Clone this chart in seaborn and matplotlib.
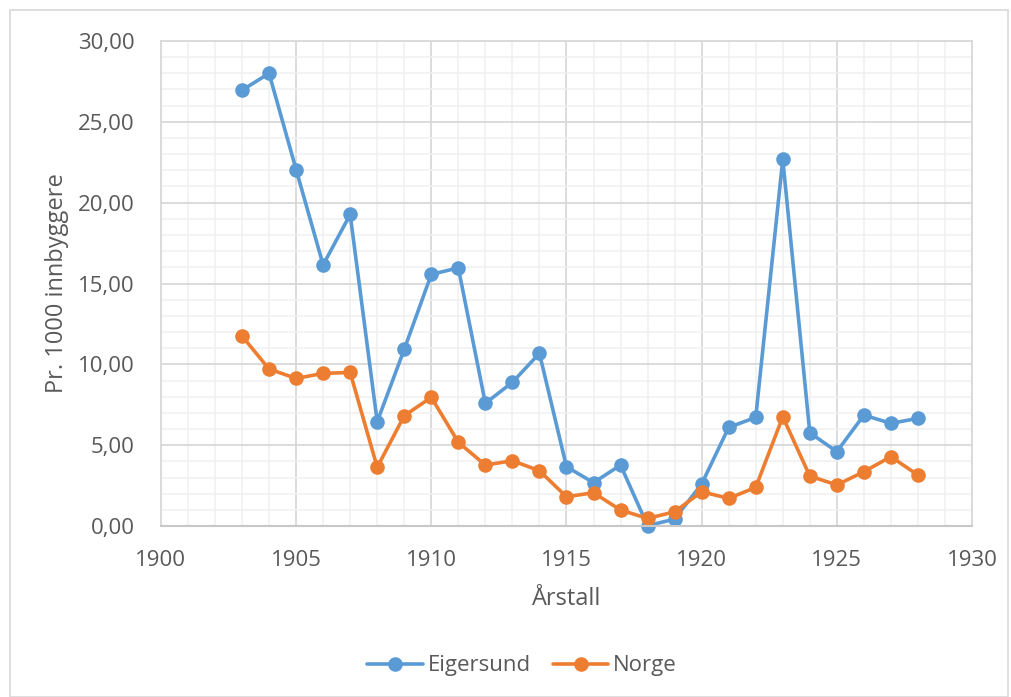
import matplotlib
matplotlib.use("Agg")
import matplotlib.pyplot as plt
from matplotlib.patches import Rectangle
from matplotlib.ticker import MultipleLocator, FuncFormatter
import seaborn as sns
import pandas as pd

# data
years = list(range(1903, 1929))
eigersund = [26.95, 28.0, 22.05, 16.15, 19.27, 6.45, 10.93, 15.56, 15.97, 7.59,
             8.89, 10.68, 3.67, 2.68, 3.77, 0.02, 0.43, 2.60, 6.10, 6.72,
             22.68, 5.77, 4.60, 6.86, 6.35, 6.66]
norge = [11.75, 9.71, 9.13, 9.44, 9.50, 3.63, 6.82, 7.96, 5.18, 3.77,
         4.04, 3.42, 1.81, 2.06, 0.99, 0.47, 0.88, 2.12, 1.71, 2.39,
         6.76, 3.09, 2.54, 3.36, 4.29, 3.15]
series_names = ["Eigersund", "Norge"]
colors = ["#5B9BD5", "#ED7D31"]

df = pd.DataFrame({
    "Årstall": years * 2,
    "verdi": eigersund + norge,
    "serie": [series_names[0]] * len(years) + [series_names[1]] * len(years),
})

sns.set_style("white")
plt.rcParams["font.family"] = ["Open Sans", "DejaVu Sans"]
text_color = "#595959"

fig = plt.figure(figsize=(10.12, 6.97), dpi=100)
ax = fig.add_axes([0.159, 0.2453, 0.8015, 0.6959])

# light outer frame like the chart area border
fig.patches.append(Rectangle((10 / 1012, 0.0), 1 - 14 / 1012, 1 - 10 / 697,
                             transform=fig.transFigure, fill=False,
                             edgecolor="#D9D9D9", linewidth=1.2))

sns.lineplot(data=df, x="Årstall", y="verdi", hue="serie", palette=colors,
             marker="o", markersize=10.5, markeredgewidth=0, linewidth=2.6,
             ax=ax, legend=True)
# markers near zero sit over the axis line, as in the original
for line in ax.lines:
    line.set_clip_on(False)

ax.set_xlim(1900, 1930)
ax.set_ylim(0, 30)
ax.xaxis.set_major_locator(MultipleLocator(5))
ax.xaxis.set_minor_locator(MultipleLocator(1))
ax.yaxis.set_major_locator(MultipleLocator(5))
ax.yaxis.set_minor_locator(MultipleLocator(1))
ax.yaxis.set_major_formatter(FuncFormatter(lambda v, p: f"{v:.2f}".replace(".", ",")))

ax.grid(which="major", color="#D9D9D9", linewidth=1.3)
ax.grid(which="minor", color="#F0F0F0", linewidth=1.1)
ax.set_axisbelow(True)
for side in ["left", "top", "right"]:
    ax.spines[side].set_color("#D9D9D9")
    ax.spines[side].set_linewidth(1.3)
ax.spines["bottom"].set_color("#C8C8C8")
ax.spines["bottom"].set_linewidth(1.5)

ax.tick_params(which="both", length=0, labelsize=16, labelcolor=text_color)
ax.tick_params(axis="x", pad=17)
ax.tick_params(axis="y", pad=19)

ax.set_xlabel("Årstall", fontsize=17, color=text_color, labelpad=12)
ax.set_ylabel("Pr. 1000 innbyggere", fontsize=17, color=text_color, labelpad=6)

handles, labels = ax.get_legend_handles_labels()
ax.legend(handles, labels, loc="center", bbox_to_anchor=(522 / 1012, 1 - 666 / 697),
          bbox_transform=fig.transFigure, ncol=2, frameon=False, fontsize=16,
          labelcolor=text_color, handlelength=2.5, columnspacing=1.0,
          handletextpad=0.2)

fig.savefig("out.png", dpi=100, facecolor="white")
